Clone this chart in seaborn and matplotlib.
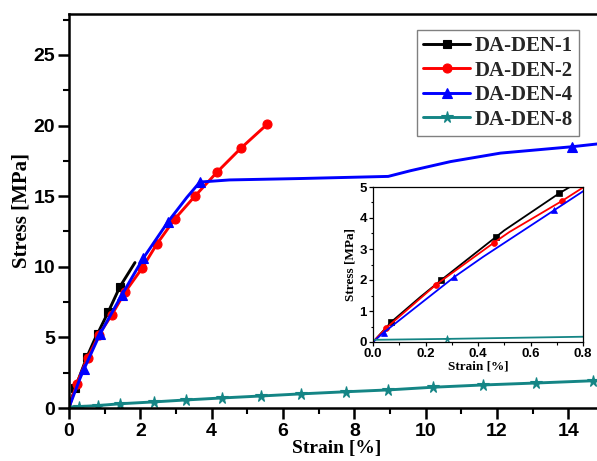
import matplotlib
matplotlib.use("Agg")
import matplotlib.pyplot as plt
from matplotlib.ticker import MultipleLocator
import seaborn as sns

# Stress-strain curves (strain in %, stress in MPa)
black_strain = [0, 0.07, 0.18, 0.26, 0.47, 0.50, 0.71, 0.80, 1.10, 1.43, 1.85]
black_stress = [0, 0.65, 1.45, 2.00, 3.40, 3.60, 4.80, 5.25, 6.80, 8.60, 10.3]

red_strain = [0, 0.05, 0.22, 0.24, 0.46, 0.52, 0.72, 0.84, 1.20, 1.57, 2.05,
              2.46, 2.97, 3.53, 4.15, 4.82, 5.56]
red_stress = [0, 0.45, 1.70, 1.85, 3.20, 3.55, 4.55, 5.20, 6.60, 8.20, 9.90,
              11.6, 13.4, 15.0, 16.7, 18.4, 20.1]

blue_strain = [0, 0.04, 0.31, 0.42, 0.69, 0.87, 1.48, 2.08, 2.78, 3.30, 3.67,
               4.50, 6.50, 8.95, 9.57, 10.7, 12.1, 14.1, 15.0]
blue_stress = [0, 0.30, 2.10, 2.75, 4.25, 5.25, 8.00, 10.6, 13.2, 14.9, 16.0,
               16.15, 16.25, 16.4, 16.8, 17.45, 18.05, 18.5, 18.75]

teal_strain = [0, 0.28, 0.80, 1.43, 2.37, 3.28, 4.28, 5.38, 6.50, 7.76, 8.95,
               10.2, 11.6, 13.1, 14.7, 15.0]
teal_stress = [0.07, 0.10, 0.17, 0.30, 0.43, 0.57, 0.71, 0.85, 1.00, 1.15, 1.28,
               1.47, 1.63, 1.77, 1.93, 1.96]

series_names = ["DA-DEN-1", "DA-DEN-2", "DA-DEN-4", "DA-DEN-8"]
x_ticks = [0, 2, 4, 6, 8, 10, 12, 14]
y_ticks = [0, 5, 10, 15, 20, 25]
inset_x_ticks = [0.0, 0.2, 0.4, 0.6, 0.8]
inset_y_ticks = [0, 1, 2, 3, 4, 5]

series = [
    dict(x=black_strain, y=black_stress, color="#000000", marker="s", ms=6.0,
         main_marks=[2, 5, 7, 8, 9], inset_marks=[1, 3, 4, 6]),
    dict(x=red_strain, y=red_stress, color="#ff0000", marker="o", ms=6.5,
         main_marks=[2, 5, 7, 8, 9, 10, 11, 12, 13, 14, 15, 16],
         inset_marks=[1, 3, 4, 6]),
    dict(x=blue_strain, y=blue_stress, color="#0000ff", marker="^", ms=7.0,
         main_marks=[3, 5, 6, 7, 8, 10, 17], inset_marks=[1, 2, 4]),
    dict(x=teal_strain, y=teal_stress, color="#148585", marker="*", ms=8.5,
         main_marks=list(range(1, 15)), inset_marks=[1]),
]

sns.set_theme(style="ticks")
plt.rcParams["font.family"] = ["Liberation Sans", "DejaVu Sans"]
plt.rcParams["font.weight"] = "bold"

W, H = 597, 461
fig = plt.figure(figsize=(W / 100, H / 100), dpi=100)
fig.patch.set_facecolor("white")

ax = fig.add_axes([69 / W, (H - 408) / H, 535 / W, 394 / H])
for name, s in zip(series_names, series):
    sns.lineplot(x=s["x"], y=s["y"], ax=ax, color=s["color"], marker=s["marker"],
                 markersize=s["ms"], markevery=s["main_marks"], linewidth=2.1,
                 markeredgecolor=s["color"], markerfacecolor=s["color"],
                 markeredgewidth=0.8, estimator=None, sort=False, label=name)

ax.set_xlim(0, 15)
ax.set_ylim(0, 27.9)
ax.set_xticks(x_ticks)
ax.set_yticks(y_ticks)
ax.xaxis.set_minor_locator(MultipleLocator(1))
ax.yaxis.set_minor_locator(MultipleLocator(2.5))
ax.tick_params(axis="both", which="major", direction="out", length=8, width=1.8,
               labelsize=14, color="black", labelcolor="black")
ax.tick_params(axis="x", which="major", pad=2.5)
ax.tick_params(axis="y", which="major", pad=2)
ax.tick_params(axis="both", which="minor", direction="out", length=4.5, width=1.5,
               color="black")
for lab in ax.get_xticklabels() + ax.get_yticklabels():
    lab.set_fontweight("bold")
for sp in ax.spines.values():
    sp.set_linewidth(1.8)
    sp.set_color("black")

serif = ["Liberation Serif", "DejaVu Serif"]
ax.set_xlabel("Strain [%]", fontsize=14, fontweight="bold", family=serif,
              color="black", labelpad=0)
ax.set_ylabel("Stress [MPa]", fontsize=15, fontweight="bold", family=serif,
              color="black", labelpad=1)

handles, labels = ax.get_legend_handles_labels()
leg = ax.legend(handles, labels, loc="upper right", bbox_to_anchor=(0.953, 0.96),
                borderaxespad=0, frameon=True, fancybox=False, framealpha=1,
                edgecolor="#808080", handlelength=2.25, handletextpad=0.2,
                labelspacing=0.22, borderpad=0.3,
                prop=dict(family=serif, weight="bold", size=15))
leg.get_frame().set_linewidth(1.0)

# Inset: zoom on the initial elastic region
axi = fig.add_axes([373 / W, (H - 342) / H, 210 / W, 155 / H])
for name, s in zip(series_names, series):
    sns.lineplot(x=s["x"], y=s["y"], ax=axi, color=s["color"], marker=s["marker"],
                 markersize=s["ms"] * 0.65, markevery=s["inset_marks"],
                 linewidth=1.3, markeredgecolor=s["color"],
                 markerfacecolor=s["color"], markeredgewidth=0.5,
                 estimator=None, sort=False, legend=False)
axi.set_xlim(0, 0.8)
axi.set_ylim(0, 5)
axi.set_xticks(inset_x_ticks)
axi.set_xticklabels([f"{v:.1f}" for v in inset_x_ticks])
axi.set_yticks(inset_y_ticks)
axi.xaxis.set_minor_locator(MultipleLocator(0.1))
axi.yaxis.set_minor_locator(MultipleLocator(0.5))
axi.tick_params(axis="both", which="major", direction="out", length=3, width=0.9,
                labelsize=9.5, color="black", labelcolor="black", pad=1.5)
axi.tick_params(axis="both", which="minor", direction="out", length=1.8, width=0.8,
                color="black")
for lab in axi.get_xticklabels() + axi.get_yticklabels():
    lab.set_fontweight("bold")
for sp in axi.spines.values():
    sp.set_linewidth(0.9)
    sp.set_color("black")
axi.set_xlabel("Strain [%]", fontsize=9.5, fontweight="bold", family=serif,
               color="black", labelpad=0)
axi.set_ylabel("Stress [MPa]", fontsize=9.5, fontweight="bold", family=serif,
               color="black", labelpad=2)

fig.savefig("out.png", dpi=100, facecolor="white")
